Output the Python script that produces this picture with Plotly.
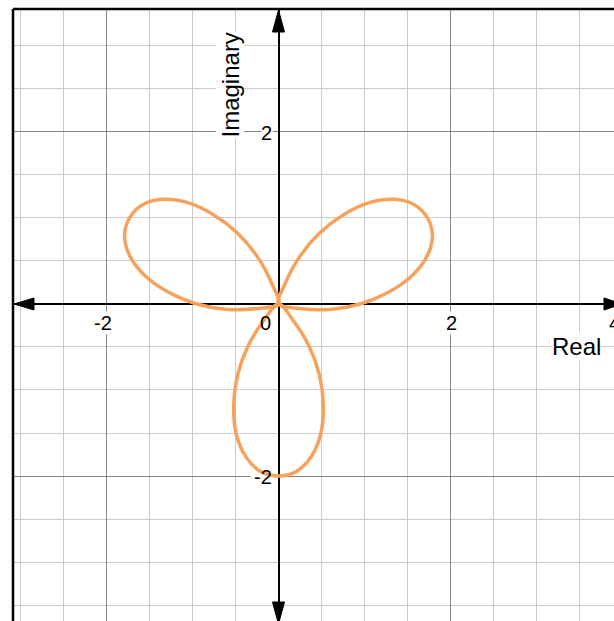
import plotly.graph_objects as go

# ---- data (points along each petal, in axis units) ----
bottom_x = [0.0, -0.167, -0.353, -0.475, -0.521, -0.491, -0.378, -0.205, 0.0,
            0.205, 0.378, 0.491, 0.521, 0.475, 0.353, 0.167, 0.0]
bottom_y = [0.0, -0.186, -0.485, -0.823, -1.169, -1.512, -1.780, -1.949, -2.0,
            -1.949, -1.780, -1.512, -1.169, -0.823, -0.485, -0.186, 0.0]

right_x = [0.0, 0.245, 0.597, 0.950, 1.273, 1.555, 1.731, 1.790, 1.732,
           1.585, 1.353, 1.064, 0.752, 0.475, 0.244, 0.078, 0.0]
right_y = [0.0, -0.052, -0.063, 0.000, 0.133, 0.331, 0.563, 0.797, 1.0,
           1.152, 1.217, 1.181, 1.036, 0.823, 0.548, 0.238, 0.0]

left_x = [0.0, -0.245, -0.597, -0.950, -1.273, -1.555, -1.731, -1.790, -1.732,
          -1.585, -1.353, -1.064, -0.752, -0.475, -0.244, -0.078, 0.0]
left_y = [0.0, -0.052, -0.063, 0.000, 0.133, 0.331, 0.563, 0.797, 1.0,
          1.152, 1.217, 1.181, 1.036, 0.823, 0.548, 0.238, 0.0]

x_tick_labels = [-2, 0, 2, 4]
y_tick_labels = [2, -2]
x_title = "Real"
y_title = "Imaginary"

X_RANGE = [-3.087, 3.901]
Y_RANGE = [-3.686, 3.430]

CURVE = "#F7A25C"
FONT = "Liberation Sans, Arial, sans-serif"

fig = go.Figure()
for px, py in [(right_x, right_y), (left_x, left_y), (bottom_x, bottom_y)]:
    fig.add_trace(go.Scatter(x=px, y=py, mode="lines",
                             line=dict(color=CURVE, width=3.5, shape="spline", smoothing=1.0),
                             hoverinfo="skip", showlegend=False))

axis_common = dict(
    showticklabels=False, ticks="", dtick=2, tick0=0,
    showgrid=True, gridcolor="#858585", gridwidth=1,
    minor=dict(dtick=0.5, tick0=0, showgrid=True, gridcolor="#cbcbcb", gridwidth=1),
    zeroline=True, zerolinecolor="#000000", zerolinewidth=2,
    showline=False, fixedrange=True,
)
fig.update_xaxes(range=X_RANGE, **axis_common)
fig.update_yaxes(range=Y_RANGE, **axis_common)

TICK_FONT = dict(family=FONT, size=20, color="#000")
xshift_for = {-2: -3, 0: -13, 2: 1}
ann = []
shapes = []
for v in x_tick_labels:
    inside = X_RANGE[0] <= v <= X_RANGE[1]
    ann.append(dict(x=v if inside else 1.0, y=0, xref="x" if inside else "paper", yref="y",
                    text=str(v), showarrow=False,
                    font=TICK_FONT, xanchor="center", yanchor="middle",
                    xshift=xshift_for.get(v, 0), yshift=-19,
                    bgcolor="white" if v in (-2, 2) else None, borderpad=0))
for v in y_tick_labels:
    ann.append(dict(x=0, y=v, xref="x", yref="y", text=str(v), showarrow=False,
                    font=TICK_FONT, xanchor="right", yanchor="middle", xshift=-6, yshift=-1,
                    borderpad=0))
    # white patch behind the label: above the grid, below the curve
    shapes.append(dict(type="rect", xref="x", yref="y", xsizemode="pixel", ysizemode="pixel",
                       xanchor=0, yanchor=v, x0=-6 - 11 * len(str(v)), x1=-6, y0=-9, y1=9,
                       fillcolor="white", line=dict(width=0), layer="between"))
# axis titles
ann.append(dict(x=3.47, y=0, xref="x", yref="y", text=x_title, showarrow=False,
                font=dict(family=FONT, size=24, color="#000"),
                xanchor="center", yanchor="middle", yshift=-43,
                bgcolor="white", borderpad=0))
ann.append(dict(x=0, y=1.0, xref="x", yref="paper", text=y_title, showarrow=False,
                font=dict(family=FONT, size=24, color="#000"), textangle=-90,
                xanchor="right", yanchor="top", xshift=-34, yshift=-23,
                bgcolor="white", borderpad=0))

# arrowheads drawn as pixel-sized triangles anchored at the axis ends
def head(xref, yref, xa, ya, path):
    return dict(type="path", xref=xref, yref=yref, xsizemode="pixel", ysizemode="pixel",
                xanchor=xa, yanchor=ya, path=path, fillcolor="#000",
                line=dict(color="#000", width=1), layer="above")

shapes += [
    dict(type="line", xref="paper", yref="paper", x0=0, x1=0, y0=0, y1=1,
         line=dict(color="#000", width=2.5)),
    dict(type="line", xref="paper", yref="paper", x0=0, x1=1, y0=1, y1=1,
         line=dict(color="#000", width=2.5)),
    head("x", "paper", 0, 1, "M0,-1 L-6,-23 L6,-23 Z"),          # top
    head("x", "paper", 0, 0, "M0,-3 L-6,19 L6,19 Z"),            # bottom
    head("paper", "y", 0, 0, "M1,0 L21,-6 L21,6 Z"),             # left
    head("paper", "y", 1, 0, "M8,0 L-10,-6 L-10,6 Z"),           # right
]

fig.update_layout(
    width=614, height=621,
    margin=dict(l=13, r=0, t=9, b=0),
    paper_bgcolor="white", plot_bgcolor="white",
    annotations=ann, shapes=shapes,
)
fig.write_html("out.html", config={"displayModeBar": False},
               post_script="document.body.style.margin='0';document.body.style.overflow='hidden';")
